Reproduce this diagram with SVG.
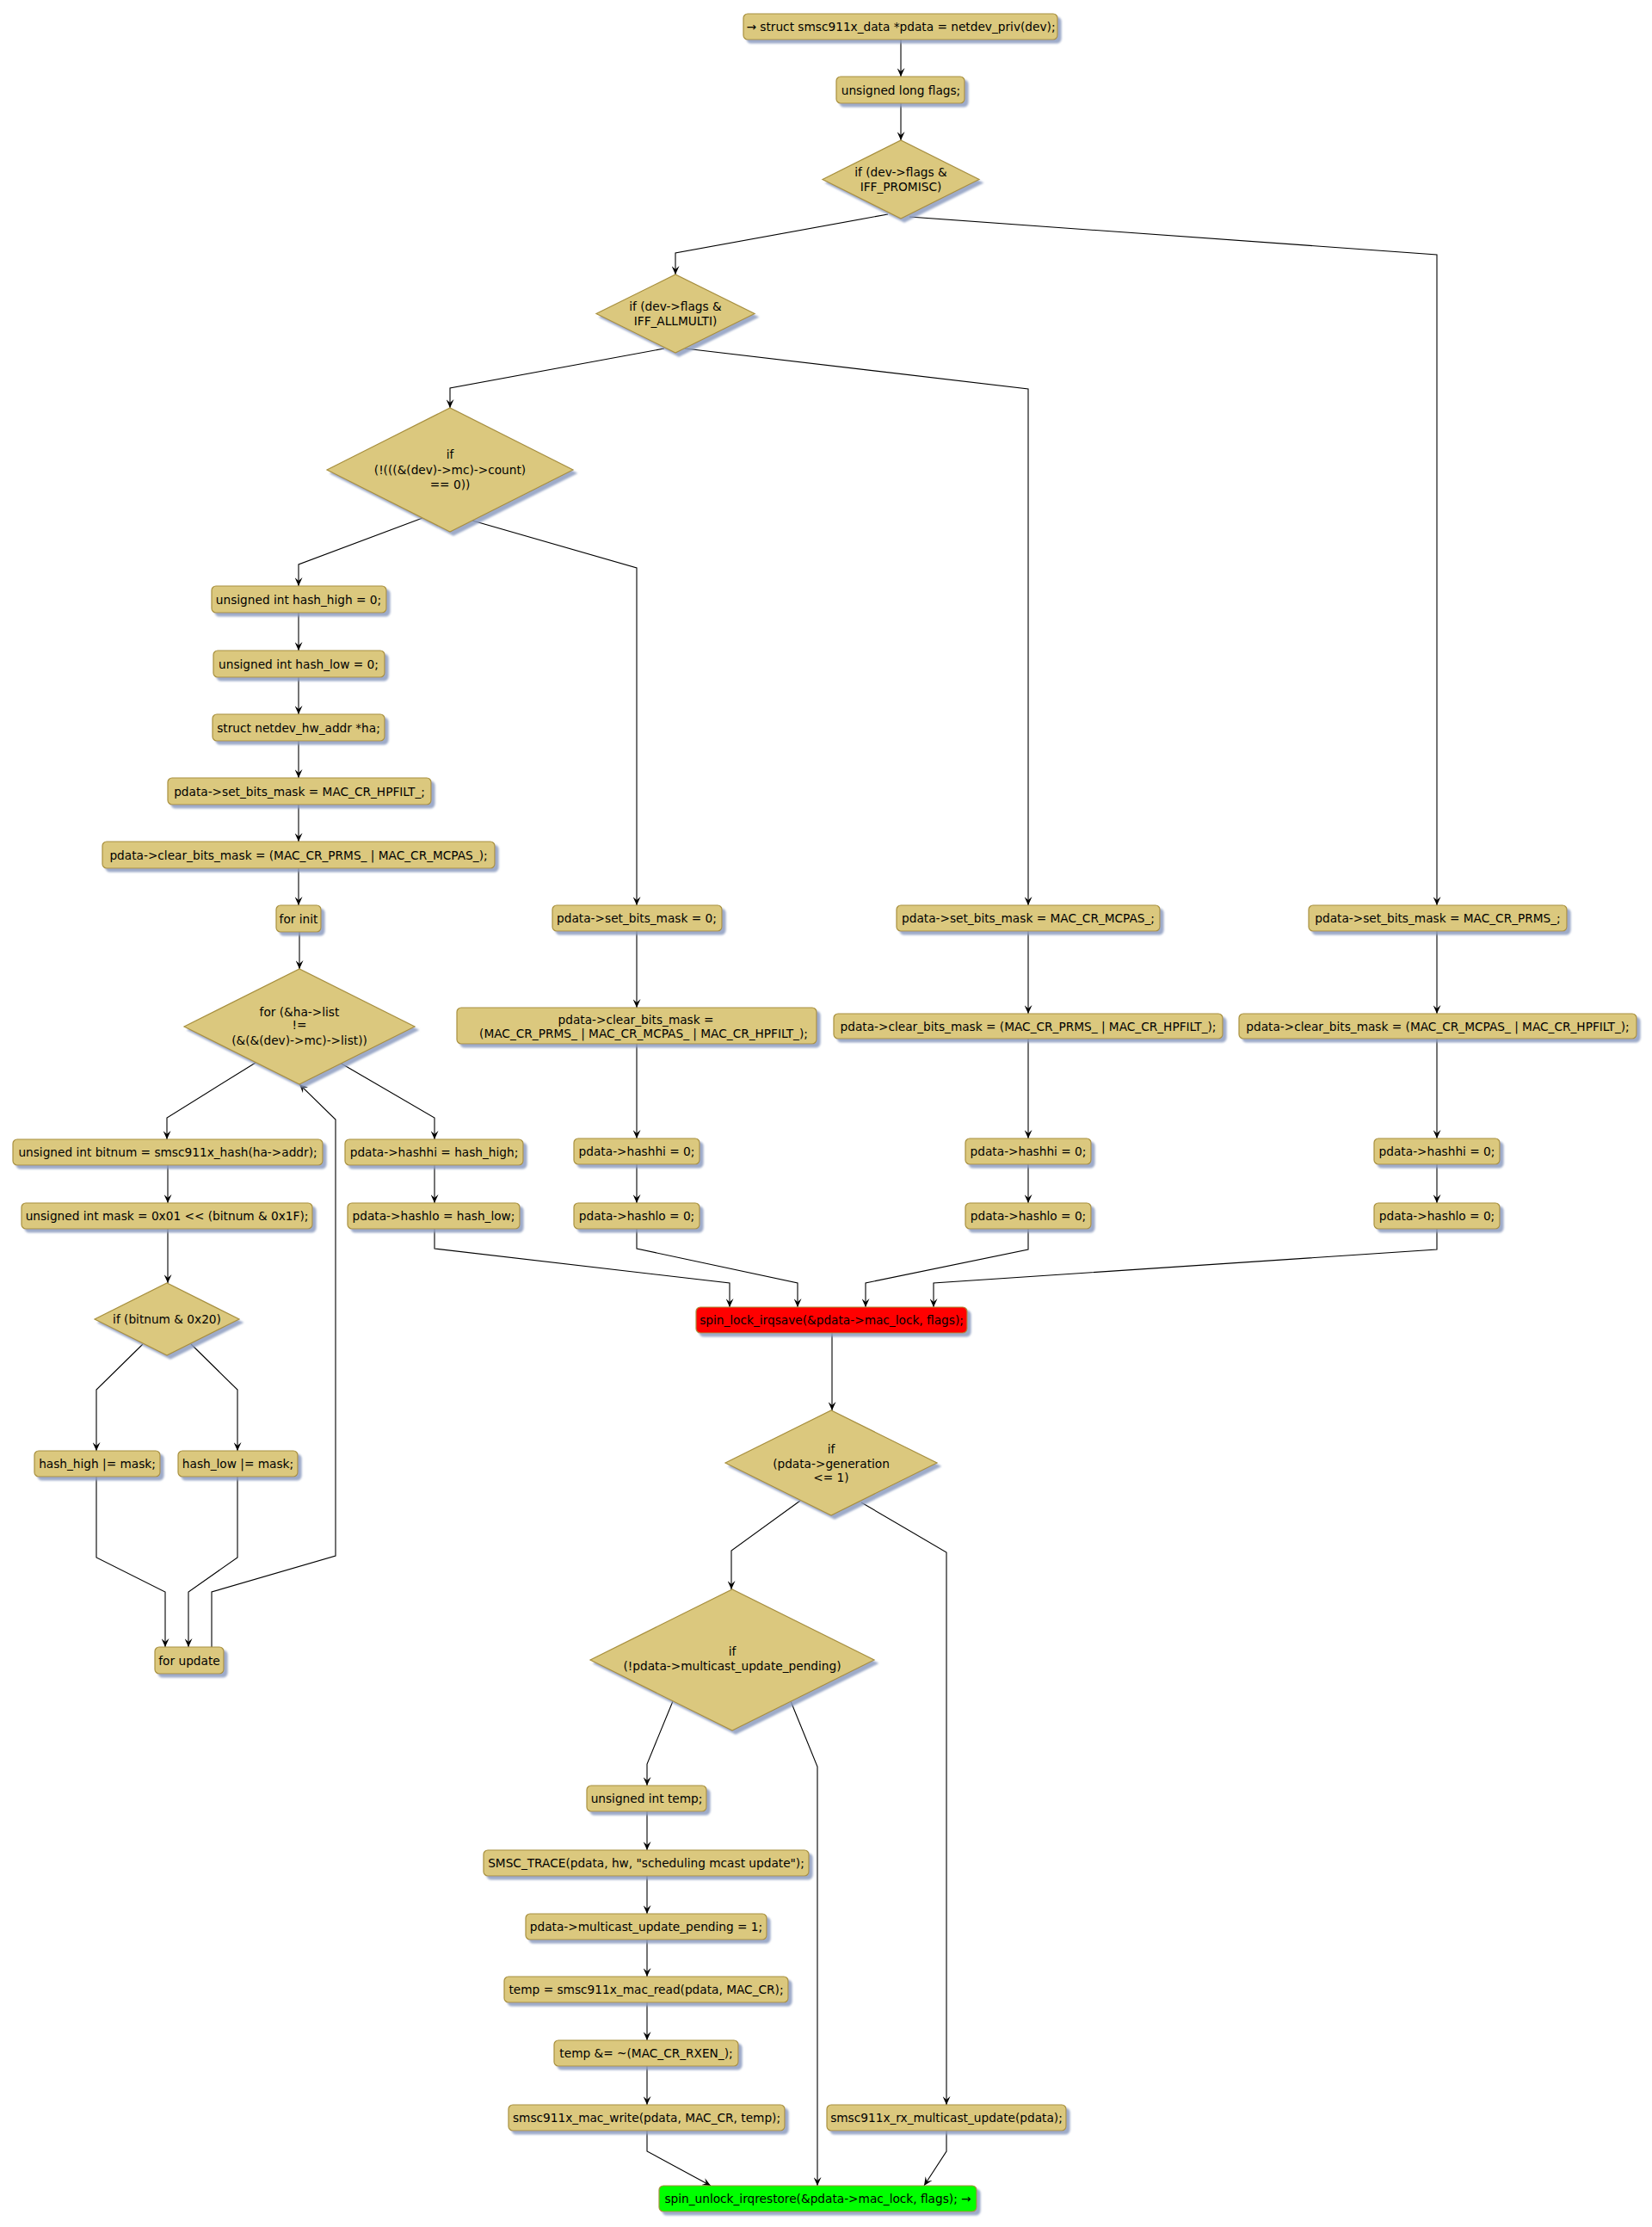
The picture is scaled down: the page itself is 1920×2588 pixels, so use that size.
<svg xmlns="http://www.w3.org/2000/svg" width="1920" height="2588" viewBox="0 0 1920 2588">
<defs>
<style>
.b{fill:#DBC87E;stroke:#A8903F;stroke-width:1.2}
.r{fill:#FF0000;stroke:#A8903F;stroke-width:1.2}
.g{fill:#00FF00;stroke:#A8903F;stroke-width:1.2}
.sh{filter:url(#ds)}
text{font-family:"DejaVu Sans","Liberation Sans",sans-serif;font-size:13.7px;fill:#000;text-anchor:middle}
.c path{fill:none;stroke:#000;stroke-width:1.1;marker-end:url(#ah)}
</style>
<filter id="ds" x="-10%" y="-20%" width="130%" height="160%">
<feDropShadow dx="4" dy="4" stdDeviation="1.2" flood-color="#8C9CC0" flood-opacity="0.85"/>
</filter>
<marker id="ah" markerWidth="10" markerHeight="9" refX="10" refY="4.5" orient="auto" markerUnits="userSpaceOnUse">
<path d="M0,0 L10,4.5 L0,9 L4,4.5 Z" fill="#000"/>
</marker>
</defs>
<rect width="1920" height="2588" fill="#FFFFFF"/>

<g id="connectors" class="c">
<path d="M1047,46 L1047,89"/>
<path d="M1047,120 L1047,163"/>
<path d="M1032,249 L785,294 L785,319"/>
<path d="M1057,252 L1670,296 L1670,1052"/>
<path d="M772,405 L523,451 L523,474"/>
<path d="M796,405 L1195,452 L1195,1052"/>
<path d="M491,602 L347,656 L347,681"/>
<path d="M549,605 L740,660 L740,1052"/>
<path d="M347,712 L347,756"/>
<path d="M347,787 L347,830"/>
<path d="M347,861 L347,904"/>
<path d="M347,935 L347,978"/>
<path d="M347,1009 L347,1052"/>
<path d="M348,1083 L348,1126"/>
<path d="M297,1235 L194,1299 L194,1324"/>
<path d="M395,1235 L505,1299 L505,1324"/>
<path d="M195,1354 L195,1398"/>
<path d="M195,1428 L195,1491"/>
<path d="M166,1562 L112,1615 L112,1686"/>
<path d="M222,1562 L276,1615 L276,1686"/>
<path d="M112,1716 L112,1810 L192,1850 L192,1914"/>
<path d="M276,1716 L276,1810 L219,1850 L219,1914"/>
<path d="M246,1914 L246,1850 L390,1808 L390,1301 L348,1260"/>
<path d="M505,1354 L505,1398"/>
<path d="M505,1428 L505,1451 L848,1491 L848,1519"/>
<path d="M740,1082 L740,1171"/>
<path d="M740,1213 L740,1323"/>
<path d="M740,1353 L740,1398"/>
<path d="M740,1428 L740,1451 L927,1491 L927,1519"/>
<path d="M1195,1082 L1195,1178"/>
<path d="M1195,1207 L1195,1323"/>
<path d="M1195,1353 L1195,1398"/>
<path d="M1195,1428 L1195,1452 L1006,1491 L1006,1519"/>
<path d="M1670,1082 L1670,1178"/>
<path d="M1670,1207 L1670,1323"/>
<path d="M1670,1353 L1670,1398"/>
<path d="M1670,1428 L1670,1452 L1085,1491 L1085,1519"/>
<path d="M967,1549 L967,1639"/>
<path d="M930,1744 L850,1802 L850,1847"/>
<path d="M1001,1746 L1100,1804 L1100,2446"/>
<path d="M782,1977 L752,2050 L752,2075"/>
<path d="M919,1977 L950,2053 L950,2540"/>
<path d="M752,2105 L752,2150"/>
<path d="M752,2180 L752,2224"/>
<path d="M752,2254 L752,2297"/>
<path d="M752,2327 L752,2371"/>
<path d="M752,2401 L752,2446"/>
<path d="M752,2476 L752,2500 L826,2540"/>
<path d="M1100,2476 L1100,2500 L1074,2540"/>
</g>

<g id="n1"><rect class="b sh" x="864" y="16" width="365" height="30" rx="5"/><text x="1047" y="36">→ struct smsc911x_data *pdata = netdev_priv(dev);</text></g>
<g id="n2"><rect class="b sh" x="972" y="89" width="149" height="31" rx="5"/><text x="1047" y="109.5">unsigned long flags;</text></g>
<g id="d1"><polygon class="b sh" points="956,208.5 1047,163 1138,208.5 1047,254"/><text x="1047" y="205">if (dev-&gt;flags &amp;</text><text x="1047" y="222">IFF_PROMISC)</text></g>
<g id="d2"><polygon class="b sh" points="693,364.5 785,319 877,364.5 785,410"/><text x="785" y="361">if (dev-&gt;flags &amp;</text><text x="785" y="377.5">IFF_ALLMULTI)</text></g>
<g id="d3"><polygon class="b sh" points="380,546 523,474 666,546 523,618"/><text x="523" y="533">if</text><text x="523" y="551">(!(((&amp;(dev)-&gt;mc)-&gt;count)</text><text x="523" y="567.5">== 0))</text></g>

<g id="n_hash_high"><rect class="b sh" x="246" y="681" width="203" height="31" rx="5"/><text x="347" y="701.5">unsigned int hash_high = 0;</text></g>
<g id="n_hash_low"><rect class="b sh" x="248" y="756" width="199" height="31" rx="5"/><text x="347" y="776.5">unsigned int hash_low = 0;</text></g>
<g id="n_ha"><rect class="b sh" x="247" y="830" width="200" height="31" rx="5"/><text x="347" y="850.5">struct netdev_hw_addr *ha;</text></g>
<g id="n_set_hpfilt"><rect class="b sh" x="195" y="904" width="306" height="31" rx="5"/><text x="348" y="924.5">pdata-&gt;set_bits_mask = MAC_CR_HPFILT_;</text></g>
<g id="n_clear_prms_mcpas"><rect class="b sh" x="119" y="978" width="456" height="31" rx="5"/><text x="347" y="998.5">pdata-&gt;clear_bits_mask = (MAC_CR_PRMS_ | MAC_CR_MCPAS_);</text></g>
<g id="n_for_init"><rect class="b sh" x="321" y="1052" width="52" height="31" rx="5"/><text x="347" y="1072.5">for init</text></g>
<g id="d4"><polygon class="b sh" points="214,1193 348,1126 482,1193 348,1260"/><text x="348" y="1181">for (&amp;ha-&gt;list</text><text x="348" y="1196">!=</text><text x="348" y="1213.5">(&amp;(&amp;(dev)-&gt;mc)-&gt;list))</text></g>
<g id="n_bitnum"><rect class="b sh" x="15" y="1324" width="360" height="30" rx="5"/><text x="195" y="1344">unsigned int bitnum = smsc911x_hash(ha-&gt;addr);</text></g>
<g id="n_mask"><rect class="b sh" x="25" y="1398" width="338" height="30" rx="5"/><text x="194" y="1418">unsigned int mask = 0x01 &lt;&lt; (bitnum &amp; 0x1F);</text></g>
<g id="d5"><polygon class="b sh" points="110,1533 194,1491 278,1533 194,1575"/><text x="194" y="1538">if (bitnum &amp; 0x20)</text></g>
<g id="n_hh_or"><rect class="b sh" x="40" y="1686" width="146" height="30" rx="5"/><text x="113" y="1706">hash_high |= mask;</text></g>
<g id="n_hl_or"><rect class="b sh" x="207" y="1686" width="139" height="30" rx="5"/><text x="276.5" y="1706">hash_low |= mask;</text></g>
<g id="n_for_update"><rect class="b sh" x="180" y="1914" width="80" height="31" rx="5"/><text x="220" y="1934.5">for update</text></g>
<g id="n_hashhi_high"><rect class="b sh" x="401" y="1324" width="207" height="30" rx="5"/><text x="504.5" y="1344">pdata-&gt;hashhi = hash_high;</text></g>
<g id="n_hashlo_low"><rect class="b sh" x="404" y="1398" width="200" height="30" rx="5"/><text x="504" y="1418">pdata-&gt;hashlo = hash_low;</text></g>

<g id="n_set_0"><rect class="b sh" x="642" y="1052" width="197" height="30" rx="5"/><text x="740" y="1072">pdata-&gt;set_bits_mask = 0;</text></g>
<g id="n_clear_all"><rect class="b sh" x="531" y="1171" width="418" height="42" rx="5"/><text x="739" y="1189.5">pdata-&gt;clear_bits_mask =</text><text x="748" y="1206">(MAC_CR_PRMS_ | MAC_CR_MCPAS_ | MAC_CR_HPFILT_);</text></g>
<g id="n_hashhi_0a"><rect class="b sh" x="667" y="1323" width="146" height="30" rx="5"/><text x="740" y="1343">pdata-&gt;hashhi = 0;</text></g>
<g id="n_hashlo_0a"><rect class="b sh" x="667" y="1398" width="146" height="30" rx="5"/><text x="740" y="1418">pdata-&gt;hashlo = 0;</text></g>

<g id="n_set_mcpas"><rect class="b sh" x="1042" y="1052" width="306" height="30" rx="5"/><text x="1195" y="1072">pdata-&gt;set_bits_mask = MAC_CR_MCPAS_;</text></g>
<g id="n_clear_prms_hpfilt"><rect class="b sh" x="969" y="1178" width="452" height="29" rx="5"/><text x="1195" y="1197.5">pdata-&gt;clear_bits_mask = (MAC_CR_PRMS_ | MAC_CR_HPFILT_);</text></g>
<g id="n_hashhi_0b"><rect class="b sh" x="1122" y="1323" width="146" height="30" rx="5"/><text x="1195" y="1343">pdata-&gt;hashhi = 0;</text></g>
<g id="n_hashlo_0b"><rect class="b sh" x="1122" y="1398" width="146" height="30" rx="5"/><text x="1195" y="1418">pdata-&gt;hashlo = 0;</text></g>

<g id="n_set_prms"><rect class="b sh" x="1521" y="1052" width="300" height="30" rx="5"/><text x="1671" y="1072">pdata-&gt;set_bits_mask = MAC_CR_PRMS_;</text></g>
<g id="n_clear_mcpas_hpfilt"><rect class="b sh" x="1440" y="1178" width="462" height="29" rx="5"/><text x="1671" y="1197.5">pdata-&gt;clear_bits_mask = (MAC_CR_MCPAS_ | MAC_CR_HPFILT_);</text></g>
<g id="n_hashhi_0c"><rect class="b sh" x="1597" y="1323" width="146" height="30" rx="5"/><text x="1670" y="1343">pdata-&gt;hashhi = 0;</text></g>
<g id="n_hashlo_0c"><rect class="b sh" x="1597" y="1398" width="146" height="30" rx="5"/><text x="1670" y="1418">pdata-&gt;hashlo = 0;</text></g>

<g id="n_spin_lock"><rect class="r sh" x="809" y="1519" width="315" height="30" rx="5"/><text x="966.5" y="1539">spin_lock_irqsave(&amp;pdata-&gt;mac_lock, flags);</text></g>
<g id="d6"><polygon class="b sh" points="843,1700 966,1639 1089,1700 966,1761"/><text x="966" y="1689">if</text><text x="966" y="1705.5">(pdata-&gt;generation</text><text x="966" y="1722">&lt;= 1)</text></g>
<g id="d7"><polygon class="b sh" points="686,1929 851,1847 1016,1929 851,2011"/><text x="851" y="1924">if</text><text x="851" y="1941">(!pdata-&gt;multicast_update_pending)</text></g>
<g id="n_temp"><rect class="b sh" x="682" y="2075" width="139" height="30" rx="5"/><text x="751.5" y="2095">unsigned int temp;</text></g>
<g id="n_trace"><rect class="b sh" x="562" y="2150" width="378" height="30" rx="5"/><text x="751" y="2170">SMSC_TRACE(pdata, hw, "scheduling mcast update");</text></g>
<g id="n_pending"><rect class="b sh" x="611" y="2224" width="280" height="30" rx="5"/><text x="751" y="2244">pdata-&gt;multicast_update_pending = 1;</text></g>
<g id="n_read"><rect class="b sh" x="586" y="2297" width="330" height="30" rx="5"/><text x="751" y="2317">temp = smsc911x_mac_read(pdata, MAC_CR);</text></g>
<g id="n_and"><rect class="b sh" x="644" y="2371" width="214" height="30" rx="5"/><text x="751" y="2391">temp &amp;= ~(MAC_CR_RXEN_);</text></g>
<g id="n_write"><rect class="b sh" x="591" y="2446" width="321" height="30" rx="5"/><text x="751.5" y="2466">smsc911x_mac_write(pdata, MAC_CR, temp);</text></g>
<g id="n_rx"><rect class="b sh" x="961" y="2446" width="278" height="30" rx="5"/><text x="1100" y="2466">smsc911x_rx_multicast_update(pdata);</text></g>
<g id="n_unlock"><rect class="g sh" x="766" y="2540" width="369" height="30" rx="5"/><text x="950.5" y="2560">spin_unlock_irqrestore(&amp;pdata-&gt;mac_lock, flags); →</text></g>
</svg>
